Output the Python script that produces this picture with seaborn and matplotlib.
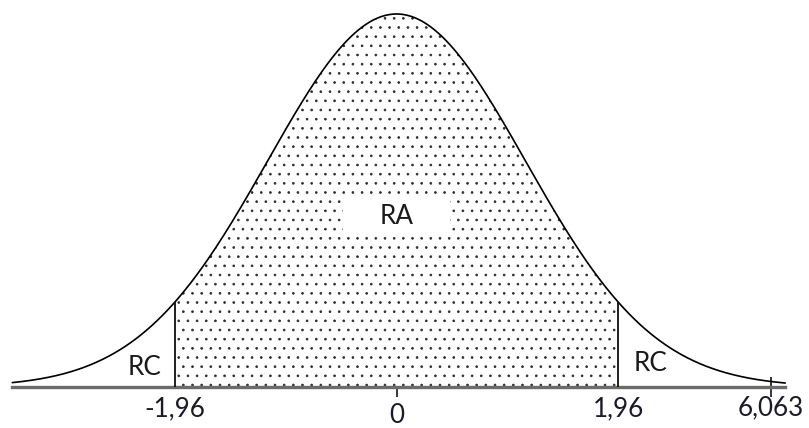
import numpy as np
import matplotlib
matplotlib.use('Agg')
import matplotlib.pyplot as plt
from matplotlib.patches import Rectangle
import seaborn as sns

# normal shape centred on 0, spread
curve_start, curve_end = -3.40, 3.44
curve_sd = 1.14
crit_left, crit_right = -1.96, 1.96

# axis labels (6,063 sits near the right end, not to scale)
tick_marks = [0, 3.314]
label_pos = [-1.96, 0, 1.96, 3.31]
label_text = ['-1,96', '0', '1,96', '6,063']
label_drop = [14, 19, 14, 13.5]

region_text = ['RC', 'RA', 'RC']
region_x = [-2.226, 0.0, 2.243]
region_y = [0.051, 0.456, 0.064]

sns.set_style('white')
plt.rcParams['font.family'] = ['Lato', 'DejaVu Sans']
plt.rcParams['hatch.linewidth'] = 0.5

fig = plt.figure(figsize=(809 / 110, 428 / 110), dpi=110)
ax = fig.add_axes([0, 0, 1, 1])

xs = np.linspace(curve_start, curve_end, 600)
ys = np.exp(-0.5 * (xs / curve_sd) ** 2)

# dotted acceptance region
inside = (xs >= crit_left) & (xs <= crit_right)
ax.fill_between(xs[inside], 0, ys[inside], facecolor='white', edgecolor='#2a2a2a',
                hatch='..', linewidth=0, zorder=1)

sns.lineplot(x=xs, y=ys, color='black', linewidth=1.1, ax=ax, zorder=3)

crit = np.array([crit_left, crit_right])
ax.vlines(crit, 0, np.exp(-0.5 * (crit / curve_sd) ** 2), color='#111111', linewidth=1.2, zorder=3)

# white patch behind RA
ax.add_patch(Rectangle((-0.47, 0.413), 0.94, 0.088, facecolor='white', edgecolor='none', zorder=2))

for t, x, y in zip(region_text, region_x, region_y):
    ax.text(x, y, t, ha='center', va='center', fontsize=17, color='#1a1a1a', zorder=4)

for t, x, d in zip(label_text, label_pos, label_drop):
    ax.annotate(t, (x, 0), xytext=(0, -d), textcoords='offset points',
                ha='center', va='center', fontsize=17, color='#1a1a2a')

ax.set_xlim(-3.509, 3.650)
ax.set_ylim(-0.110, 1.0375)

for s in ['top', 'left', 'right']:
    ax.spines[s].set_visible(False)
ax.spines['bottom'].set_position(('data', 0))
ax.spines['bottom'].set_bounds(curve_start, curve_end)
ax.spines['bottom'].set_color('#6b6b6b')
ax.spines['bottom'].set_linewidth(2.2)
ax.set_xticks(tick_marks, labels=['', ''])
ax.tick_params(axis='x', direction='inout', length=13, width=1.0, color='black', bottom=True)
ax.set_yticks([])
ax.set_xlabel('')
ax.set_ylabel('')

fig.savefig('out.png', dpi=110)
